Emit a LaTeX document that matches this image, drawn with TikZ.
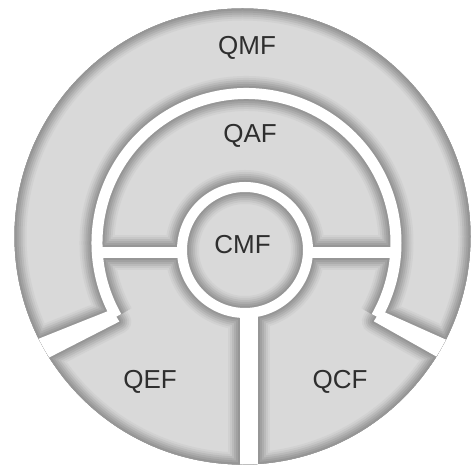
\documentclass[tikz,border=0pt]{standalone}
\usepackage{fontspec}
\setmainfont{Liberation Sans}
\usetikzlibrary{calc}
\newcommand\rimlayer[2]{%
  \begin{scope}[draw=#2]
    \draw[line width={0.75pt*(10+#1)}] (C) circle[radius=63];
    \draw[line width={0.75pt*(11+#1)}, line cap=butt] ($(B)+(209.5:149.5)$) arc[start angle=209.5, end angle=-29.5, radius=149.5];
    \draw[line width={0.75pt*(11+#1)}, line cap=butt] (97,213.5) -- (182,213.5) (308,213.5) -- (396,213.5);
    \draw[line width={0.75pt*(18+#1)}, line cap=butt] (249,154) -- (249,-20);
    \draw[line width={0.75pt*#1}, line join=round] ($(B)+(206.3:150)$) -- ($(O)+(206.3:245)$) -- ($(O)+(211.7:245)$) -- ($(B)+(211.7:149.5)$) -- cycle;
    \draw[line width={0.75pt*#1}, line join=round] ($(B)+(-26.7:150)$) -- ($(O)+(-26.7:245)$) -- ($(O)+(-31.6:245)$) -- ($(B)+(-31.6:149.5)$) -- cycle;
    \draw[line width={0.75pt*#1}] (O) circle[radius=228];
  \end{scope}}
\begin{document}
\begin{tikzpicture}[x=0.75pt,y=0.75pt,
  lbl/.style={font=\fontsize{19.5}{20}\selectfont, text=black!82, inner sep=0pt}]
\useasboundingbox (0,0) rectangle (473,466);
\coordinate (O) at (242.5,229.5);
\coordinate (B) at (246.5,223);
\coordinate (C) at (245,216);
\begin{scope}
  \clip (O) circle[radius=228];
  \fill[black!15] (O) circle[radius=228];
  \rimlayer{24}{black!18}
  \rimlayer{20}{black!22}
  \rimlayer{16}{black!27}
  \rimlayer{12}{black!32}
  \rimlayer{8}{black!37}
  \rimlayer{4}{black!41}
  \begin{scope}[draw=white]
    \draw[line width={0.75pt*10}] (C) circle[radius=63];
    \draw[line width={0.75pt*11}, line cap=butt] ($(B)+(209.5:149.5)$) arc[start angle=209.5, end angle=-29.5, radius=149.5];
    \draw[line width={0.75pt*11}, line cap=butt] (97,213.5) -- (182,213.5) (308,213.5) -- (396,213.5);
    \draw[line width={0.75pt*18}, line cap=butt] (249,154) -- (249,-20);
    \fill[white] ($(B)+(206.3:150)$) -- ($(O)+(206.3:245)$) -- ($(O)+(211.7:245)$) -- ($(B)+(211.7:149.5)$) -- cycle;
    \fill[white] ($(B)+(-26.7:150)$) -- ($(O)+(-26.7:245)$) -- ($(O)+(-31.6:245)$) -- ($(B)+(-31.6:149.5)$) -- cycle;
  \end{scope}
\end{scope}
\node[lbl] (qmf) at (247,418) {QMF};
\node[lbl] (qaf) at (250,330) {QAF};
\node[lbl] (cmf) at (242.5,221) {CMF};
\node[lbl] (qef) at (150,84) {QEF};
\node[lbl] (qcf) at (340,84) {QCF};
\end{tikzpicture}
\end{document}
